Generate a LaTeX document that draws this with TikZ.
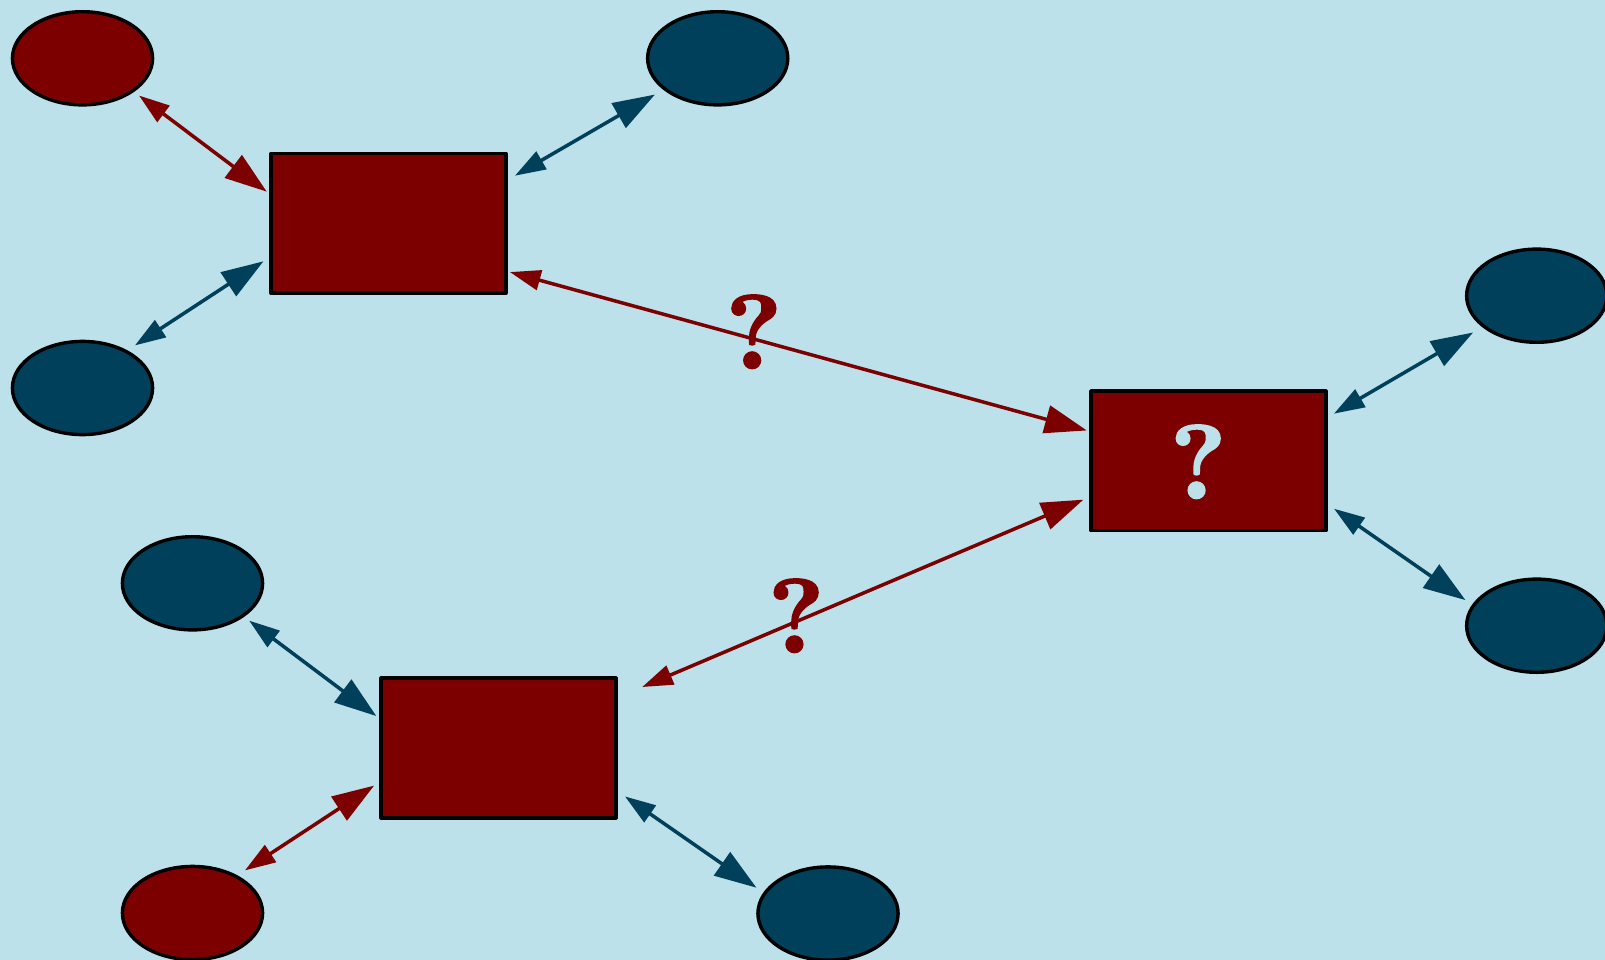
\documentclass[tikz,border=0pt]{standalone}
\usepackage{fontspec}
\usetikzlibrary{arrows.meta,shapes.geometric}

\newfontfamily\queryfont{lmroman10-bold.otf}
% heavy glyph: fill and stroke the outline
\newcommand{\heavyglyph}[1]{\special{pdf:literal direct 2 Tr 1.8 w}#1\special{pdf:literal direct 0 Tr}}

\definecolor{bgblue}{RGB}{188,225,234}
\definecolor{deepred}{RGB}{124,0,0}
\definecolor{deepblue}{RGB}{0,64,90}

\tikzset{
  oval/.style={ellipse, draw=black, line width=3.4pt, outer sep=1.7pt, inner sep=0pt,
    minimum width=140.2pt, minimum height=93.2pt},
  redoval/.style={oval, fill=deepred},
  blueoval/.style={oval, fill=deepblue},
  block/.style={rectangle, draw=black, fill=deepred, line width=3.8pt, line join=round,
    outer sep=1.9pt, inner sep=0pt, minimum width=234.6pt, minimum height=139.5pt},
  link/.style={line width=3.5pt,
    {Triangle[length=30.7pt,width=20pt]}-{Triangle[length=42pt,width=28pt]}},
  redlink/.style={link, draw=deepred, fill=deepred},
  bluelink/.style={link, draw=deepblue, fill=deepblue},
  query/.style={inner sep=0pt, anchor=base, font=\queryfont\fontsize{105}{105}\selectfont},
}

\begin{document}
\begin{tikzpicture}[x=1pt, y=-1pt]
  % canvas
  \fill[bgblue] (0,0) rectangle (1605,960);
  \useasboundingbox (0,0) rectangle (1605,960);

  % upper group
  \node[redoval]  (tl)  at (82.5,58.3)  {};
  \node[blueoval] (ml)  at (82.5,388)   {};
  \node[blueoval] (tm)  at (717.7,58.3) {};
  \node[block]    (top) at (388.5,223.3) {};

  % right group
  \node[block]    (mid) at (1208.3,460.8) {};
  \node[blueoval] (ru)  at (1536.7,295.7) {};
  \node[blueoval] (rd)  at (1536.7,625.7) {};

  % lower group
  \node[blueoval] (lu)  at (192.5,583.3) {};
  \node[redoval]  (ld)  at (192.5,913)   {};
  \node[blueoval] (bm)  at (828,913.5)   {};
  \node[block]    (bot) at (498.5,748)   {};

  % connectors of the upper group
  \draw[redlink,  shorten <=6.1pt, shorten >=3.2pt] (tl.-33.75) -- (top.166.48);
  \draw[bluelink, shorten <=8.4pt, shorten >=9.6pt] (top.20.0) -- (tm.210.15);
  \draw[bluelink, shorten <=9pt,   shorten >=7pt]   (ml.40.99) -- (top.196.63);

  % long connectors to the middle block
  \draw[redlink, shorten <=2.3pt,  shorten >=2.4pt] (top.-22.24) -- (mid.166.12);
  \draw[redlink, shorten <=26.6pt, shorten >=6.2pt] (bot.23.84) -- (mid.197.15);

  % connectors of the right group
  \draw[bluelink, shorten <=7.45pt, shorten >=10.6pt] (mid.20.15) -- (ru.210.31);
  \draw[bluelink, shorten <=7.9pt,  shorten >=8.05pt] (mid.-20.25) -- (rd.162.61);

  % connectors of the lower group
  \draw[bluelink, shorten <=6.25pt, shorten >=3.7pt] (lu.-33.11) -- (bot.166.9);
  \draw[redlink,  shorten <=9pt,    shorten >=6.2pt] (ld.40.99) -- (bot.196.78);
  \draw[bluelink, shorten <=8.85pt, shorten >=8.4pt] (bot.-20.1) -- (bm.162.61);

  % question marks
  \node[query, text=deepred] (q1) at (753.9,368.5)  {\heavyglyph{?}};
  \node[query, text=deepred] (q2) at (796.2,652.5)  {\heavyglyph{?}};
  \node[query, text=bgblue]  (q3) at (1198.3,498.5) {\heavyglyph{?}};
\end{tikzpicture}
\end{document}
